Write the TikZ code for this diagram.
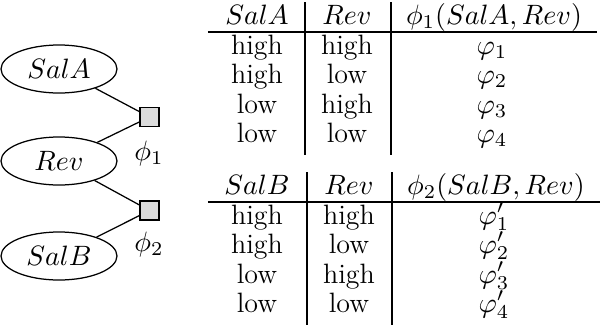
\RequirePackage{fix-cm}
\documentclass[tikz,border=0pt]{standalone}
\usetikzlibrary{shapes.geometric}
\begin{document}
\begin{tikzpicture}[x=0.4pt,y=-0.4pt,
  every node/.style={font=\fontsize{11.2}{13.4}\selectfont},
  var/.style={ellipse,draw,line width=0.5pt,minimum width=46.4pt,minimum height=19.2pt,inner sep=0pt},
  fac/.style={draw,line width=0.5pt,fill=black!14,minimum size=7.6pt,inner sep=0pt},
  flabel/.style={inner sep=0pt},
  cell/.style={anchor=base,inner sep=0pt},
  edge/.style={line width=0.5pt},
  hrule/.style={line width=0.7pt},
  vrule/.style={line width=0.5pt}]
\useasboundingbox (0,0) rectangle (602,328);

% graph
\node[var] (SalA) at (59,69) {$SalA$};
\node[var] (Rev)  at (59,161) {$Rev$};
\node[var] (SalB) at (59,256) {$SalB$};
\node[fac] (f1) at (149.5,117) {};
\node[fac] (f2) at (149.5,210.5) {};
\node[flabel] (l1) at (149,153) {$\phi_1$};
\node[flabel] (l2) at (149,244) {$\phi_2$};
\draw[edge] (SalA) -- (f1);
\draw[edge] (Rev) -- (f1);
\draw[edge] (Rev) -- (f2);
\draw[edge] (SalB) -- (f2);

% table 1
\node[cell] (a0) at (257,24) {$SalA$};
\node[cell] (b0) at (347,24) {$Rev$};
\node[cell] (c0) at (494,24) {$\phi_1(SalA,Rev)$};
\node[cell] (a1) at (257,54) {high};
\node[cell] (b1) at (347,54) {high};
\node[cell] (c1) at (492,54) {$\varphi_1$};
\node[cell] (a2) at (257,83) {high};
\node[cell] (b2) at (347,83) {low};
\node[cell] (c2) at (492,83) {$\varphi_2$};
\node[cell] (a3) at (257,113) {low};
\node[cell] (b3) at (347,113) {high};
\node[cell] (c3) at (492,113) {$\varphi_3$};
\node[cell] (a4) at (257,142) {low};
\node[cell] (b4) at (347,142) {low};
\node[cell] (c4) at (492,142) {$\varphi_4$};
\coordinate (h1l) at (208,32);
\coordinate (h1r) at (597,32);
\coordinate (v1at) at (305,2);
\coordinate (v1ab) at (305,155);
\coordinate (v1bt) at (391,2);
\coordinate (v1bb) at (391,155);
\draw[hrule] (h1l) -- (h1r);
\draw[vrule] (v1at) -- (v1ab);
\draw[vrule] (v1bt) -- (v1bb);

% table 2
\node[cell] (d0) at (257,194) {$SalB$};
\node[cell] (e0) at (349,194) {$Rev$};
\node[cell] (g0) at (496,194) {$\phi_2(SalB,Rev)$};
\node[cell] (d1) at (257,224) {high};
\node[cell] (e1) at (349,224) {high};
\node[cell] (g1) at (494,224) {$\varphi'_1$};
\node[cell] (d2) at (257,253) {high};
\node[cell] (e2) at (349,253) {low};
\node[cell] (g2) at (494,253) {$\varphi'_2$};
\node[cell] (d3) at (257,283) {low};
\node[cell] (e3) at (349,283) {high};
\node[cell] (g3) at (494,283) {$\varphi'_3$};
\node[cell] (d4) at (257,312) {low};
\node[cell] (e4) at (349,312) {low};
\node[cell] (g4) at (494,312) {$\varphi'_4$};
\coordinate (h2l) at (208,202);
\coordinate (h2r) at (600,202);
\coordinate (v2at) at (307,172);
\coordinate (v2ab) at (307,325);
\coordinate (v2bt) at (392,172);
\coordinate (v2bb) at (392,325);
\draw[hrule] (h2l) -- (h2r);
\draw[vrule] (v2at) -- (v2ab);
\draw[vrule] (v2bt) -- (v2bb);
\end{tikzpicture}
\end{document}
